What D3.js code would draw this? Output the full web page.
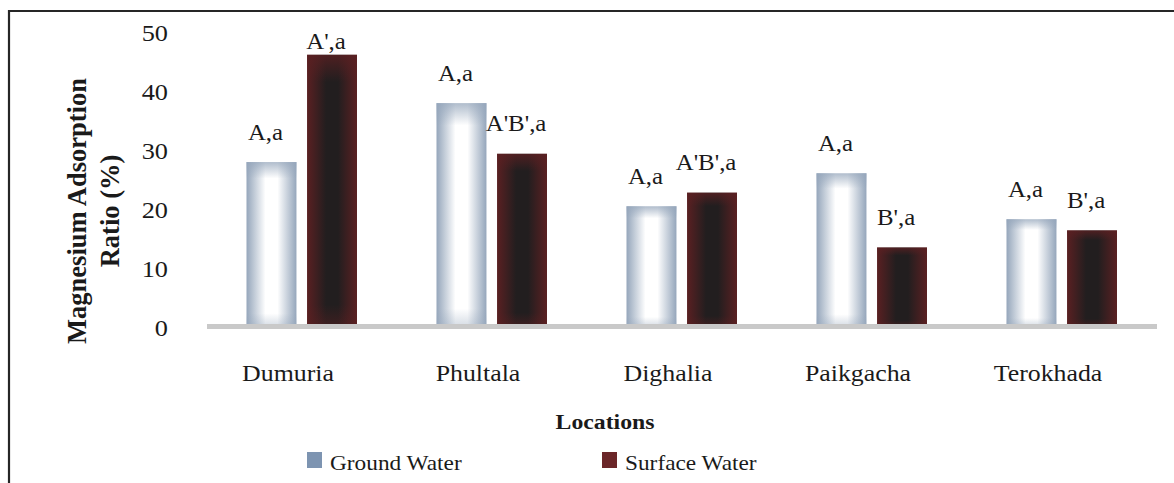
<!DOCTYPE html>
<html>
<head>
<meta charset="utf-8">
<script src="https://cdn.jsdelivr.net/npm/d3@7/dist/d3.min.js"></script>
<style>
  html, body { margin: 0; padding: 0; background: #fff; }
  svg { display: block; }
  text { font-family: "Liberation Serif", "Times New Roman", serif; fill: #1a1a1a; }
</style>
</head>
<body>
<svg id="chart" width="1174" height="483"></svg>
<script>
// ---- data ----
const categories = ["Dumuria", "Phultala", "Dighalia", "Paikgacha", "Terokhada"];
const seriesNames = ["Ground Water", "Surface Water"];
const groundWater = [27.9, 37.9, 20.4, 26.0, 18.2];
const surfaceWater = [46.1, 29.3, 22.7, 13.4, 16.3];
const groundLabels = ["A,a", "A,a", "A,a", "A,a", "A,a"];
const surfaceLabels = ["A',a", "A'B',a", "A'B',a", "B',a", "B',a"];
const yTicks = [0, 10, 20, 30, 40, 50];
const yTitleLines = ["Magnesium Adsorption", "Ratio (%)"];
const xTitle = "Locations";

// ---- layout ----
const svg = d3.select("#chart");
const W = 1174, H = 483;
const plot = { left: 207, right: 1157, top: 31.8, bottom: 326.5 };

const x0 = d3.scaleBand().domain(categories).range([plot.left, plot.right]).paddingInner(0).paddingOuter(0);
const x1 = d3.scaleBand().domain(seriesNames).range([39.5, 150]).paddingInner(0.175).paddingOuter(0);
const y = d3.scaleLinear().domain([0, 50]).range([plot.bottom, plot.top]);

// outer border (open on right and bottom, as in the source crop)
svg.append("path")
  .attr("d", `M9,${H + 5} L9,11 L${W + 5},11`)
  .attr("fill", "none").attr("stroke", "#262626").attr("stroke-width", 2.2);

// gradients
const defs = svg.append("defs");
function addGradients(id, edge, center, vTop, vBot) {
  const h = defs.append("linearGradient").attr("id", id + "-h").attr("x1", 0).attr("x2", 1).attr("y1", 0).attr("y2", 0);
  h.append("stop").attr("offset", "0%").attr("stop-color", edge);
  h.append("stop").attr("offset", "38%").attr("stop-color", center);
  h.append("stop").attr("offset", "62%").attr("stop-color", center);
  h.append("stop").attr("offset", "100%").attr("stop-color", edge);
  const v = defs.append("linearGradient").attr("id", id + "-v").attr("x1", 0).attr("x2", 0).attr("y1", 0).attr("y2", 1);
  v.append("stop").attr("offset", "0%").attr("stop-color", edge).attr("stop-opacity", vTop);
  v.append("stop").attr("offset", "10%").attr("stop-color", edge).attr("stop-opacity", 0);
  v.append("stop").attr("offset", "92%").attr("stop-color", edge).attr("stop-opacity", 0);
  v.append("stop").attr("offset", "100%").attr("stop-color", edge).attr("stop-opacity", vBot);
}
addGradients("gw", "#95a6bb", "#ffffff", 0.75, 0.4);
addGradients("sw", "#5a2022", "#221e1f", 0.8, 0.5);

const seriesInfo = [
  { name: seriesNames[0], values: groundWater, labels: groundLabels, grad: "gw", legend: "#7d94b1" },
  { name: seriesNames[1], values: surfaceWater, labels: surfaceLabels, grad: "sw", legend: "#6b2628" }
];

// bars
const groups = svg.append("g").selectAll("g").data(categories).join("g")
  .attr("transform", d => `translate(${x0(d)},0)`);

seriesInfo.forEach(s => {
  const bars = groups.append("g");
  bars.append("rect")
    .attr("x", x1(s.name)).attr("width", x1.bandwidth())
    .attr("y", (d, i) => y(s.values[i])).attr("height", (d, i) => y(0) - y(s.values[i]))
    .attr("fill", `url(#${s.grad}-h)`);
  bars.append("rect")
    .attr("x", x1(s.name)).attr("width", x1.bandwidth())
    .attr("y", (d, i) => y(s.values[i])).attr("height", (d, i) => y(0) - y(s.values[i]))
    .attr("fill", `url(#${s.grad}-v)`);
});

// baseline
svg.append("line")
  .attr("x1", plot.left).attr("x2", plot.right)
  .attr("y1", y(0)).attr("y2", y(0))
  .attr("stroke", "#c9c9c9").attr("stroke-width", 5);

// helper for slightly stretched text
function stretchedText(parent, x, yy, str, size, opts = {}) {
  const g = parent.append("g").attr("transform", `translate(${x},${yy}) scale(${opts.sx || 1.08},1)`);
  return g.append("text").text(str)
    .attr("font-size", size)
    .attr("text-anchor", opts.anchor || "middle")
    .attr("font-weight", opts.bold ? "bold" : "normal");
}

// value labels
seriesInfo.forEach(s => {
  categories.forEach((c, i) => {
    const cx = x0(c) + x1(s.name) + x1.bandwidth() / 2 - 6;
    const ly = Math.max(y(s.values[i]) - 22.5, plot.top + 17);
    stretchedText(svg, cx, ly, s.labels[i], 23, { sx: 1.08 });
  });
});

// y axis ticks (axis without line)
const yAxis = svg.append("g").attr("transform", `translate(168,0)`)
  .call(d3.axisLeft(y).tickValues(yTicks).tickSize(0).tickPadding(0));
yAxis.select(".domain").remove();
yAxis.selectAll(".tick text").remove();
yAxis.selectAll(".tick").each(function (d) {
  stretchedText(d3.select(this), 0, 8.5, d3.format("d")(d), 23.5, { anchor: "end", sx: 1.12 });
});

// x category labels
const xAxis = svg.append("g").attr("transform", `translate(0,${y(0)})`)
  .call(d3.axisBottom(x0).tickSize(0).tickPadding(0));
xAxis.select(".domain").remove();
xAxis.selectAll(".tick text").remove();
xAxis.selectAll(".tick").each(function (d) {
  stretchedText(d3.select(this), -14, 54, d, 23.5, { sx: 1.1 });
});

// axis titles
yTitleLines.forEach((line, i) => {
  svg.append("text")
    .attr("transform", `translate(${85.5 + i * 33},${211}) rotate(-90)`)
    .attr("font-size", 26.5).attr("font-weight", "bold").attr("text-anchor", "middle")
    .text(line);
});

stretchedText(svg, 605, 429, xTitle, 22, { bold: true, sx: 1.08 });

// legend
const legend = svg.append("g");
const legendX = [307, 602];
seriesInfo.forEach((s, i) => {
  const lx = legendX[i];
  legend.append("rect").attr("x", lx).attr("y", 452).attr("width", 15).attr("height", 16).attr("fill", s.legend);
  stretchedText(legend, lx + 23, 469.5, s.name, 22, { anchor: "start", sx: 1.06 });
});
</script>
</body>
</html>
